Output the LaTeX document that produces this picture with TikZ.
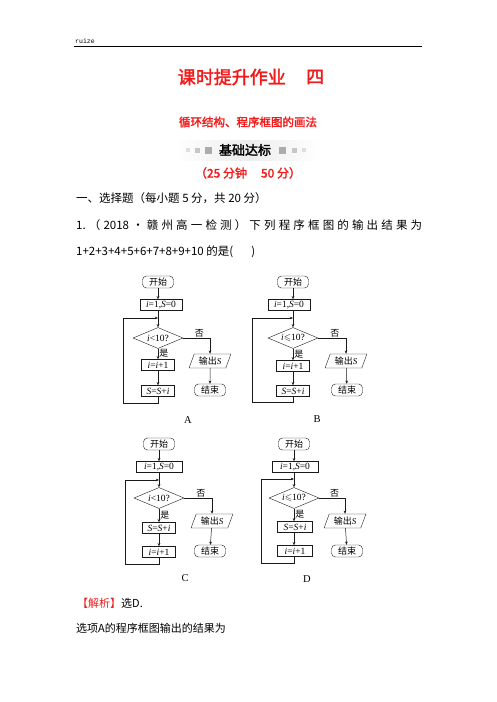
\documentclass[tikz,border=0pt]{standalone}
\usepackage{amsmath,amssymb}
\usepackage{fontspec}
\setmainfont{Liberation Serif}
\setmonofont{Liberation Mono}
\newfontfamily\cjk{Noto Sans CJK SC}
\newfontfamily\cjkb{Noto Sans CJK SC}[FakeBold=2]
\usepackage{xcolor}
\usepackage{tikz}
\usetikzlibrary{arrows.meta,shapes.geometric}
\definecolor{hred}{HTML}{F21B1B}
\definecolor{ink}{HTML}{1A1A1A}

\begin{document}
\begin{tikzpicture}[x=1pt,y=-1pt,
 term/.style={draw=ink,rounded corners=4pt,minimum width=31pt,minimum height=12pt,inner sep=1pt,font=\cjk\fontsize{9}{9}\selectfont},
 proc/.style={draw=ink,minimum width=33pt,minimum height=11pt,inner sep=1.5pt,font=\fontsize{9.5}{9}\selectfont},
 dec/.style={diamond,draw=ink,aspect=2.4,minimum width=50pt,minimum height=21pt,inner sep=0pt,font=\fontsize{9.5}{9}\selectfont},
 io/.style={trapezium,trapezium left angle=70,trapezium right angle=110,draw=ink,minimum height=14pt,inner sep=1.5pt,font=\cjk\fontsize{9}{9}\selectfont},
 a/.style={-{Stealth[length=3.2pt,width=2.6pt]},draw=ink,line width=.5pt},
 l/.style={inner sep=1pt,font=\cjk\fontsize{9}{9}\selectfont},
 lbl/.style={font=\fontsize{10.5}{11}\selectfont},
 hd/.style={inner sep=0pt,text=hred,font=\cjkb\fontsize{18}{18}\selectfont},
 txt/.style={anchor=west,inner sep=0pt,font=\cjk\fontsize{11.5}{12}\selectfont}
]
\fill[white] (0,0) rectangle (496,702);
\useasboundingbox (0,0) rectangle (496,702);
% page head
\node[anchor=south west,inner sep=0pt,font=\ttfamily\fontsize{6.5}{7}\selectfont] (head) at (75,44) {ruize};
\draw[line width=.8pt] (74,46.5) -- (422,46.5);
\node[hd,anchor=east] (title) at (286,77) {课时提升作业};
\node[hd,anchor=west] (num) at (306,77) {四};
\node[font=\cjkb\fontsize{11.5}{12}\selectfont,text=hred] (sub) at (248,122) {循环结构、程序框图的画法};
\shade[left color=white,right color=white,middle color=gray!14] (174,140) rectangle (322,160);
\fill[gray!25] (186,148) rectangle +(4,4);
\fill[gray!45] (195,147.5) rectangle +(5,5);
\fill[gray!65] (205,147) rectangle +(6.5,6.5);
\fill[gray!65] (279,147) rectangle +(6.5,6.5);
\fill[gray!45] (292,147.5) rectangle +(5,5);
\fill[gray!25] (302,148) rectangle +(4,4);
\node[font=\cjkb\fontsize{13}{13}\selectfont] (band) at (245,150) {基础达标};
\node[font=\cjkb\fontsize{12}{12}\selectfont,text=hred] (time) at (248,173) {（25 分钟\hspace{14pt}50 分）};
\node[txt] (part) at (76,198) {一、选择题（每小题 5 分，共 20 分）};
\node[txt] (q1) at (76,225) {\hbox to 346pt{1.\hfil （\hfil 2018\hfil ·\hfil 赣\hfil 州\hfil 高\hfil 一\hfil 检\hfil 测\hfil ）\hfil 下\hfil 列\hfil 程\hfil 序\hfil 框\hfil 图\hfil 的\hfil 输\hfil 出\hfil 结\hfil 果\hfil 为}};
\node[txt] (q1b) at (76,252) {1+2+3+4+5+6+7+8+9+10 的是(\hspace{18pt})};

% chart A
\begin{scope}[shift={(158,282)}]
\node[term] (As) at (0,0) {开始};
\node[proc,minimum width=42pt] (Ai) at (3,23) {\textit{i}=1,\textit{S}=0};
\coordinate (Am) at (0,36);
\coordinate (Ax) at (-35,36);
\node[dec] (Ad) at (0,56) {\textit{i}<10?};
\node[proc] (A1) at (0,83) {\textit{i}=\textit{i}+1};
\node[proc] (A2) at (0,109) {\textit{S}=\textit{S}+\textit{i}};
\coordinate (Ab) at (0,121);
\node[io] (Ao) at (52,79) {输出{\rmfamily\itshape S}};
\node[term] (Ae) at (52,108) {结束};
\node[lbl] (Al) at (30,138) {A};
\draw[a] (As) -- (As|-Ai.north);
\draw[a] (Ai.south-|As) -- (Ad);
\draw[a] (Ad) -- node[l,right,pos=.45] {是} (A1);
\draw[a] (A1) -- (A2);
\draw[a] (A2) -- (Ab) -| (Ax) -- (Am);
\draw[a] (Ad.east) -| node[l,above,pos=.3] {否} (Ao);
\draw[a] (Ao) -- (Ae);
\end{scope}

% chart B
\begin{scope}[shift={(293,282)}]
\node[term] (Bs) at (0,0) {开始};
\node[proc,minimum width=42pt] (Bi) at (-4,23) {\textit{i}=1,\textit{S}=0};
\coordinate (Bm) at (0,36);
\coordinate (Bx) at (-41,36);
\node[dec] (Bd) at (0,56) {\textit{i}$\leqslant$10?};
\node[proc] (B1) at (0,84) {\textit{i}=\textit{i}+1};
\node[proc] (B2) at (0,109) {\textit{S}=\textit{S}+\textit{i}};
\coordinate (Bb) at (0,120);
\node[io] (Bo) at (53,79) {输出{\rmfamily\itshape S}};
\node[term] (Be) at (54,108) {结束};
\node[lbl] (Bl) at (24,137) {B};
\draw[a] (Bs) -- (Bs|-Bi.north);
\draw[a] (Bi.south-|Bs) -- (Bd);
\draw[a] (Bd) -- node[l,right,pos=.45] {是} (B1);
\draw[a] (B1) -- (B2);
\draw[a] (B2) -- (Bb) -| (Bx) -- (Bm);
\draw[a] (Bd.east) -| node[l,above,pos=.3] {否} (Bo);
\draw[a] (Bo) -- (Be);
\end{scope}

% chart C
\begin{scope}[shift={(159,444)}]
\node[term] (Cs) at (0,0) {开始};
\node[proc,minimum width=46pt] (Ci) at (0,23) {\textit{i}=1,\textit{S}=0};
\coordinate (Cm) at (0,36);
\coordinate (Cx) at (-34,36);
\node[dec] (Cd) at (0,54) {\textit{i}<10?};
\node[proc] (C1) at (0,84) {\textit{S}=\textit{S}+\textit{i}};
\node[proc] (C2) at (0,108) {\textit{i}=\textit{i}+1};
\coordinate (Cb) at (0,120);
\node[io] (Co) at (53,77) {输出{\rmfamily\itshape S}};
\node[term] (Ce) at (51,107) {结束};
\node[lbl] (Cl) at (26,134) {C};
\draw[a] (Cs) -- (Ci);
\draw[a] (Ci) -- (Cd);
\draw[a] (Cd) -- node[l,right,pos=.45] {是} (C1);
\draw[a] (C1) -- (C2);
\draw[a] (C2) -- (Cb) -| (Cx) -- (Cm);
\draw[a] (Cd.east) -| node[l,above,pos=.3] {否} (Co);
\draw[a] (Co) -- (Ce);
\end{scope}

% chart D
\begin{scope}[shift={(294,444)}]
\node[term] (Ds) at (0,0) {开始};
\node[proc,minimum width=46pt] (Di) at (1,23) {\textit{i}=1,\textit{S}=0};
\coordinate (Dm) at (0,35);
\coordinate (Dx) at (-33,35);
\node[dec] (Dd) at (0,54) {\textit{i}$\leqslant$10?};
\node[proc,minimum width=35pt] (D1) at (1,83) {\textit{S}=\textit{S}+\textit{i}};
\node[proc,minimum width=35pt] (D2) at (1,107) {\textit{i}=\textit{i}+1};
\coordinate (Db) at (0,119);
\node[io] (Do) at (51,77) {输出{\rmfamily\itshape S}};
\node[term] (De) at (53,107) {结束};
\node[lbl] (Dl) at (13,135) {D};
\draw[a] (Ds) -- (Ds|-Di.north);
\draw[a] (Di.south-|Ds) -- (Dd);
\draw[a] (Dd) -- node[l,right,pos=.45] {是} (D1.north-|Dd);
\draw[a] (D1.south-|Dd) -- (D2.north-|Dd);
\draw[a] (D2.south-|Dd) -- (Db) -| (Dx) -- (Dm);
\draw[a] (Dd.east) -| node[l,above,pos=.3] {否} (Do);
\draw[a] (Do) -- (De);
\end{scope}

\node[txt,font=\cjk\fontsize{11}{12}\selectfont] (ans) at (77,603) {\textcolor{hred}{【解析】}选D.};
\node[txt,font=\cjk\fontsize{11}{12}\selectfont] (ansA) at (76,628) {选项A的程序框图输出的结果为};
\end{tikzpicture}
\end{document}
